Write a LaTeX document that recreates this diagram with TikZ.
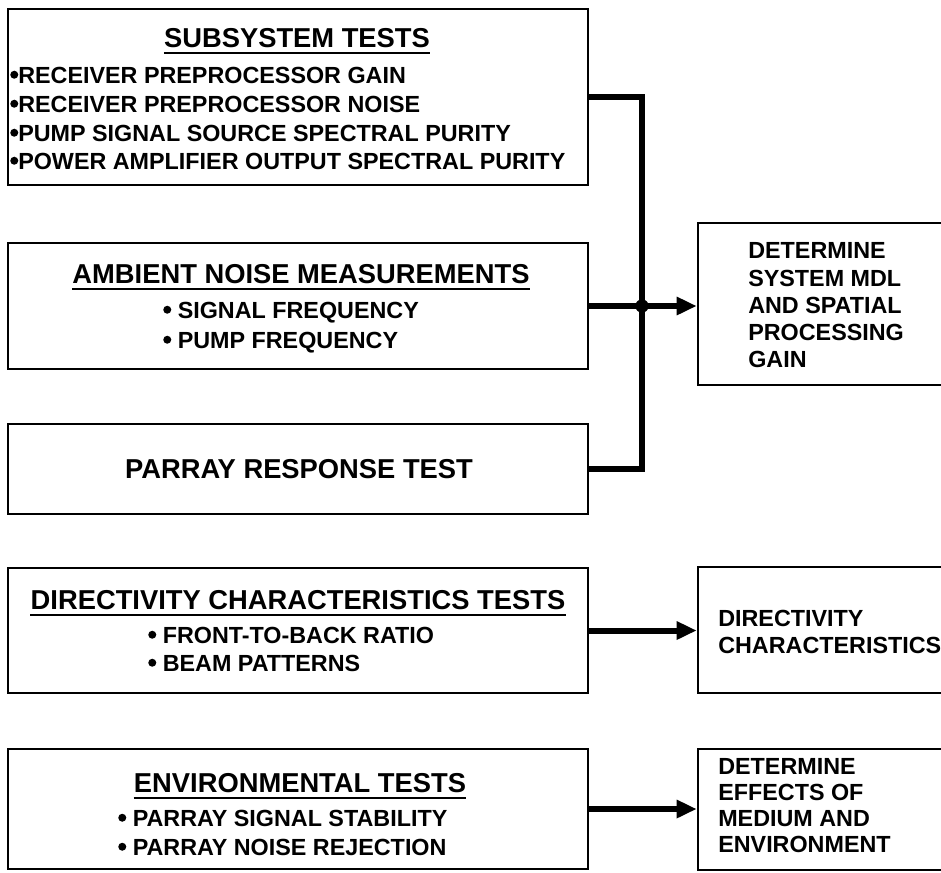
\documentclass[tikz,border=0pt]{standalone}
\usepackage{fontspec}
\setmainfont{Liberation Sans}
\usetikzlibrary{positioning, arrows.meta, fit}

\newcommand{\blob}{\tikz[baseline=0pt]\fill (3pt,6.2pt) circle[radius=3pt];}

\begin{document}
\begin{tikzpicture}[
    x=0.75pt, y=-0.75pt,
    box/.style={rectangle, draw=black, line width=2pt, inner sep=0pt},
    heading/.style={font=\bfseries\fontsize{20.5}{24}\selectfont, inner sep=0pt, anchor=base},
    entry/.style={font=\bfseries\fontsize{17.5}{21}\selectfont, inner sep=0pt, anchor=base west},
    uline/.style={line width=2.2pt},
    feed/.style={line width=4.5pt},
    flow/.style={line width=4.5pt, -{Triangle[length=15pt, width=13pt]}}
]
    \useasboundingbox (0,0) rectangle (941,872);
    \clip (0,0) rectangle (941,872);

    % test boxes (left column)
    \node[box, fit={(8,9) (588,185)}] (subsys) {};
    \node[box, fit={(8,243) (588,369)}] (ambient) {};
    \node[box, fit={(8,424) (588,514)}] (parray) {};
    \node[box, fit={(8,568) (588,693)}] (direct) {};
    \node[box, fit={(8,749) (588,869)}] (env) {};

    % result boxes (right column, run off the page)
    \node[box, fit={(698,223) (960,385)}] (mdl) {};
    \node[box, fit={(698,567) (960,693)}] (dirchar) {};
    \node[box, fit={(698,749) (960,870)}] (effects) {};

    % subsystem tests
    \node[heading] (subhd) at (297,47) {SUBSYSTEM TESTS};
    \foreach \y/\txt [count=\i] in {83/RECEIVER PREPROCESSOR GAIN,
        112/RECEIVER PREPROCESSOR NOISE, 141/PUMP SIGNAL SOURCE SPECTRAL PURITY,
        169/POWER AMPLIFIER OUTPUT SPECTRAL PURITY}
        \node[entry] (sub\i) at (10,\y) {\blob\txt};

    % ambient noise
    \node[heading] (ambhd) at (301,283) {AMBIENT NOISE MEASUREMENTS};
    \node[entry] (amb1) at (163,318) {\blob\ SIGNAL FREQUENCY};
    \node[entry] (amb2) at (163,348) {\blob\ PUMP FREQUENCY};

    \node[heading] (partxt) at (299,478) {PARRAY RESPONSE TEST};

    % directivity
    \node[heading] (dirhd) at (298,609) {DIRECTIVITY CHARACTERISTICS TESTS};
    \node[entry] (dir1) at (148,643) {\blob\ FRONT-TO-BACK RATIO};
    \node[entry] (dir2) at (148,671) {\blob\ BEAM PATTERNS};

    % environmental
    \node[heading] (envhd) at (300,792) {ENVIRONMENTAL TESTS};
    \node[entry] (env1) at (118,826) {\blob\ PARRAY SIGNAL STABILITY};
    \node[entry] (env2) at (118,855) {\blob\ PARRAY NOISE REJECTION};

    \foreach \h in {subhd, ambhd, dirhd, envhd}
        \draw[uline] ([yshift=-4.5pt]\h.base west) -- ([yshift=-4.5pt]\h.base east);

    % results
    \foreach \y/\txt [count=\i] in {258/DETERMINE, 286/SYSTEM MDL, 313/AND SPATIAL,
        340/PROCESSING, 367/GAIN}
        \node[entry] (mdl\i) at (748,\y) {\txt};
    \foreach \y/\txt [count=\i] in {626/DIRECTIVITY, 653/CHARACTERISTICS}
        \node[entry] (dc\i) at (718,\y) {\txt};
    \foreach \y/\txt [count=\i] in {774/DETERMINE, 800/EFFECTS OF, 826/MEDIUM AND,
        852/ENVIRONMENT}
        \node[entry] (eff\i) at (718,\y) {\txt};

    % connectors
    \coordinate (tap) at (642,306);
    \draw[feed] (subsys.east) -| (tap) |- (parray.east);
    \draw[flow] (ambient.east) -- (ambient.east -| mdl.west);
    \fill (tap) circle[radius=5pt];
    \draw[flow] (direct.east) -- (direct.east -| dirchar.west);
    \draw[flow] (env.east) -- (env.east -| effects.west);

\end{tikzpicture}
\end{document}
